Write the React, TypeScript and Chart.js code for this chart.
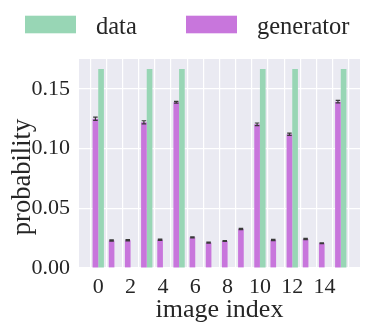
import React, { useEffect, useRef } from "react";
import { Chart, registerables } from "chart.js";

Chart.register(...registerables);

// ---- data ----
const imageIndex = [0, 1, 2, 3, 4, 5, 6, 7, 8, 9, 10, 11, 12, 13, 14, 15];
const dataProb = [0.1667, 0, 0, 0.1667, 0, 0.1667, 0, 0, 0, 0, 0.1667, 0, 0.1667, 0, 0, 0.1667];
const generatorProb = [0.125, 0.023, 0.0232, 0.122, 0.0237, 0.1388, 0.0257, 0.0212, 0.0226, 0.0327, 0.1203, 0.0235, 0.112, 0.0243, 0.0207, 0.1393];
const generatorErr = [0.0014, 0.0005, 0.0005, 0.0013, 0.0005, 0.0008, 0.0004, 0.0004, 0.0004, 0.0005, 0.0011, 0.0005, 0.0010, 0.0005, 0.0004, 0.0011];
const xTickValues = [-1, 0, 1, 2, 3, 4, 5, 6, 7, 8, 9, 10, 11, 12, 13, 14, 15, 16];
const xTickLabels = ["0", "2", "4", "6", "8", "10", "12", "14"];
const yTickValues = [0, 0.05, 0.1, 0.15];
const legendLabels = ["data", "generator"];
const xTitle = "image index";
const yTitle = "probability";

const GREEN = "#98d6b5";
const PURPLE = "#c876dc";
const SERIF = "'Liberation Serif', 'Times New Roman', serif";

const decorPlugin = {
  id: "decor",
  beforeDraw(chart: any) {
    const { ctx, chartArea } = chart;
    ctx.save();
    ctx.fillStyle = "#eaeaf2";
    ctx.fillRect(chartArea.left, chartArea.top, chartArea.right - chartArea.left, chartArea.bottom - chartArea.top);
    ctx.restore();
  },
  afterDatasetsDraw(chart: any) {
    const { ctx } = chart;
    const meta = chart.getDatasetMeta(0);
    const yScale = chart.scales.y;
    ctx.save();
    ctx.strokeStyle = "#3a3a3a";
    ctx.lineWidth = 1.2;
    meta.data.forEach((el: any, i: number) => {
      const v = generatorProb[i];
      const e = generatorErr[i];
      const yTop = yScale.getPixelForValue(v + e);
      const yBot = yScale.getPixelForValue(v - e);
      const half = el.width * 0.4;
      ctx.beginPath();
      ctx.moveTo(el.x, yTop);
      ctx.lineTo(el.x, yBot);
      ctx.moveTo(el.x - half, yTop);
      ctx.lineTo(el.x + half, yTop);
      ctx.moveTo(el.x - half, yBot);
      ctx.lineTo(el.x + half, yBot);
      ctx.stroke();
    });
    ctx.restore();
  },
  afterDraw(chart: any) {
    const { ctx, chartArea } = chart;
    ctx.save();
    // legend
    const colors = [GREEN, PURPLE];
    const boxX = [25, 186];
    ctx.font = `24.5px ${SERIF}`;
    ctx.textBaseline = "alphabetic";
    ctx.textAlign = "left";
    legendLabels.forEach((lab, i) => {
      ctx.fillStyle = colors[i];
      ctx.fillRect(boxX[i], 15.7, 51, 17.6);
      ctx.fillStyle = "#262626";
      ctx.fillText(lab, boxX[i] + 71, 33.5);
    });
    // x title
    ctx.font = `26px ${SERIF}`;
    ctx.textAlign = "center";
    ctx.fillText(xTitle, (chartArea.left + chartArea.right) / 2, 317);
    // y title
    ctx.translate(29.5, 177);
    ctx.rotate(-Math.PI / 2);
    ctx.font = `26.5px ${SERIF}`;
    ctx.fillText(yTitle, 0, 0);
    ctx.restore();
  },
};

export default function App() {
  const ref = useRef<HTMLCanvasElement | null>(null);
  useEffect(() => {
    if (!ref.current) return;
    const chart = new Chart(ref.current, {
      type: "bar",
      data: {
        datasets: [
          {
            label: legendLabels[1],
            data: imageIndex.map((x, i) => ({ x, y: generatorProb[i] })),
            backgroundColor: PURPLE,
            borderWidth: 0,
            categoryPercentage: 0.7,
            barPercentage: 1.0,
          },
          {
            label: legendLabels[0],
            data: imageIndex.map((x, i) => ({ x, y: dataProb[i] })),
            backgroundColor: GREEN,
            borderWidth: 0,
            categoryPercentage: 0.7,
            barPercentage: 1.0,
          },
        ],
      },
      options: {
        animation: false,
        responsive: false,
        maintainAspectRatio: false,
        layout: { padding: { top: 59, right: 6, left: 0, bottom: 0 } },
        plugins: { legend: { display: false }, tooltip: { enabled: false }, title: { display: false } },
        scales: {
          x: {
            type: "linear",
            min: -1.19,
            max: 16.19,
            offset: false,
            afterBuildTicks: (axis: any) => {
              axis.ticks = xTickValues.map((v) => ({ value: v }));
            },
            afterFit: (scale: any) => {
              scale.height = 62;
            },
            grid: { color: "#ffffff", lineWidth: 1.2, drawTicks: false },
            border: { display: false },
            ticks: {
              autoSkip: false,
              maxRotation: 0,
              padding: 6,
              color: "#262626",
              font: { family: SERIF, size: 22 },
              callback: (v: any) => (xTickLabels.includes(String(v)) ? String(v) : ""),
            },
          },
          y: {
            min: 0,
            max: 0.175,
            afterBuildTicks: (axis: any) => {
              axis.ticks = yTickValues.map((v) => ({ value: v }));
            },
            afterFit: (scale: any) => {
              scale.width = 79;
            },
            grid: { color: "#ffffff", lineWidth: 1.2, drawTicks: false },
            border: { display: false },
            ticks: {
              padding: 9,
              color: "#262626",
              font: { family: SERIF, size: 22 },
              callback: (v: any) => Number(v).toFixed(2),
            },
          },
        },
      },
      plugins: [decorPlugin],
    });
    return () => chart.destroy();
  }, []);
  return (
    <div style={{ position: "absolute", left: 0, top: 0, width: 366, height: 330, background: "#fff" }}>
      <canvas ref={ref} width={366} height={330} style={{ width: 366, height: 330, display: "block" }} />
    </div>
  );
}
